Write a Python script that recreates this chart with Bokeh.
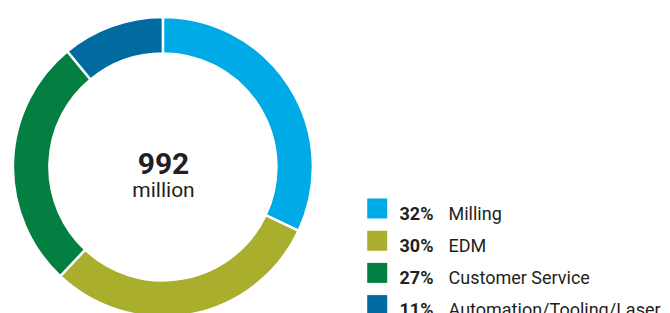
import numpy as np
from bokeh.plotting import figure
from bokeh.models import Range1d, ColumnDataSource
from bokeh.core.properties import value
from bokeh.embed import file_html
from bokeh.resources import INLINE

# ---- data ----
categories = ["Milling", "EDM", "Customer Service", "Automation/Tooling/Laser"]
shares = [32, 30, 27, 11]
pct_labels = ["32%", "30%", "27%", "11%"]
colors = ["#00AAE6", "#A9AE2C", "#037F42", "#006AA1"]
total_value = "992"
total_unit = "million"

W, H = 670, 313
TXT = "#231F20"
TXT_SHIFT = -8  # empirical baseline correction for svg text

def sx(x):  # screen x -> data x
    return x

def sy(y):  # screen y -> data y
    return H - y

def ty(y):
    return H - (y + TXT_SHIFT)

p = figure(width=W, height=H, output_backend="svg", toolbar_location=None,
           x_range=Range1d(0, W), y_range=Range1d(0, H), min_border=0)
p.axis.visible = False
p.grid.visible = False
p.outline_line_color = None
p.background_fill_color = "white"

# donut
frac = np.array(shares, dtype=float) / sum(shares)
cum = np.concatenate([[0], np.cumsum(frac)])
start = np.pi / 2 - cum[1:] * 2 * np.pi
end = np.pi / 2 - cum[:-1] * 2 * np.pi
src = ColumnDataSource(dict(start=start, end=end, color=colors))
cx, cy = sx(162.4), sy(166.4)
p.annular_wedge(x=cx, y=cy, inner_radius=113.5, outer_radius=150,
                inner_radius_units="screen", outer_radius_units="screen",
                start_angle="start", end_angle="end", direction="anticlock",
                fill_color="color", line_color="white", line_width=2.5, source=src)

# center text
p.text(x=[sx(163)], y=[ty(170.5)], text=[total_value], text_font=value("Roboto"),
       text_font_style="bold", text_font_size="30px", text_color=TXT,
       text_align="center", text_baseline="alphabetic")
p.text(x=[sx(163)], y=[ty(197.3)], text=[total_unit], text_font=value("Roboto"),
       text_font_size="21px", text_color=TXT,
       text_align="center", text_baseline="alphabetic")

# legend
n = len(categories)
row_c = [208.5 + 32.2 * i for i in range(n)]
lsrc = ColumnDataSource(dict(
    x=[sx(376.7)] * n, y=[sy(c - 0.5) for c in row_c], color=colors,
    ty=[ty(c + 12.2) for c in row_c], px=[sx(433)] * n, lx=[sx(448)] * n,
    pct=pct_labels, cat=categories))
p.rect(x="x", y="y", width=20, height=20, width_units="screen", height_units="screen",
       fill_color="color", line_color=None, source=lsrc)
p.text(x="px", y="ty", text="pct", text_font=value("Roboto"), text_font_style="bold",
       text_font_size="18px", text_color=TXT, text_align="right",
       text_baseline="alphabetic", source=lsrc)
p.text(x="lx", y="ty", text="cat", text_font=value("Roboto"),
       text_font_size="18px", text_color=TXT, text_align="left",
       text_baseline="alphabetic", source=lsrc)

open("out.html", "w").write(file_html(p, INLINE))
